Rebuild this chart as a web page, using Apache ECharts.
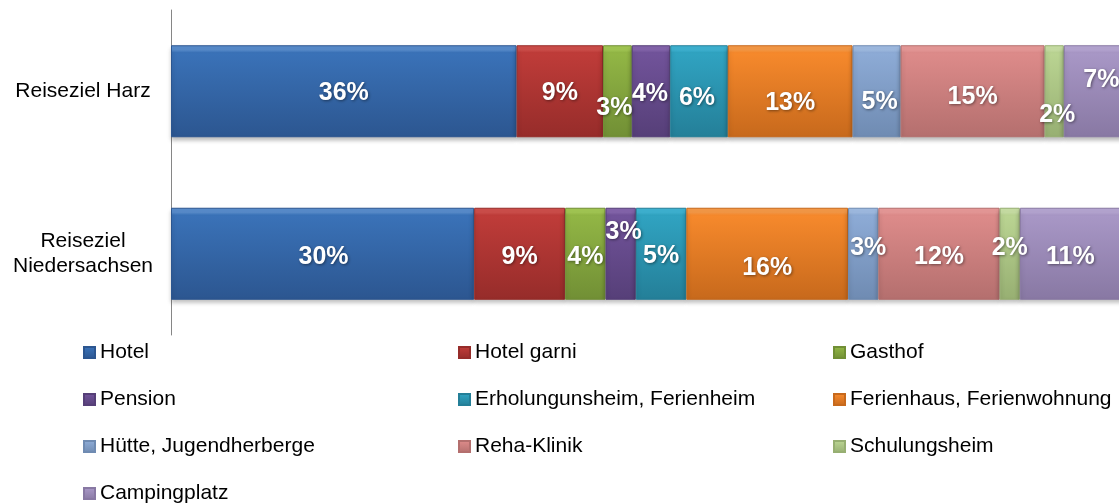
<!DOCTYPE html>
<html>
<head>
<meta charset="utf-8">
<script src="https://cdn.jsdelivr.net/npm/echarts@6/dist/echarts.min.js"></script>
<style>
  html, body { margin: 0; padding: 0; background: #fff; }
  #chart { width: 1119px; height: 504px; }
</style>
</head>
<body>
<div id="chart"></div>
<script>
// Kategorien (y-Achse)
const categories = ["Reiseziel Harz", "Reiseziel\nNiedersachsen"];
// Unterkunftsarten (Reihen)
const seriesNames = [
  "Hotel", "Hotel garni", "Gasthof", "Pension", "Erholungunsheim, Ferienheim",
  "Ferienhaus, Ferienwohnung", "Hütte, Jugendherberge", "Reha-Klinik", "Schulungsheim", "Campingplatz"
];
// Werte in % pro Reiseziel
const harz = [36, 9, 3, 4, 6, 13, 5, 15, 2, 7];
const niedersachsen = [30, 9, 4, 3, 5, 16, 3, 12, 2, 11];

// Farben: hell (oben), mittel, dunkel (unten)
const palette = [
  ["#5A8FD0", "#3A72B8", "#2C5690"],
  ["#D2504C", "#BF3C39", "#962C2A"],
  ["#A6CB55", "#92B645", "#718F35"],
  ["#8767AF", "#71539A", "#563F78"],
  ["#3FB6D6", "#30A3C1", "#247F98"],
  ["#FA9C48", "#F6892C", "#C7691C"],
  ["#A3BFE6", "#8DABD6", "#6F8BB2"],
  ["#EC9C9B", "#DD8B8A", "#B46F6E"],
  ["#CCE3A8", "#BAD492", "#97AF72"],
  ["#B9A9D6", "#A897C6", "#8878A3"]
];
// Label-Verschiebung wie im Original [x, y]
const labelShift = [
  [[0, 2], [1, 3]],
  [[0, 2], [0, 3]],
  [[-3, 17], [0, 3]],
  [[-1, 3], [3, -22]],
  [[-2, 7], [0, 2]],
  [[0, 12], [0, 14]],
  [[3, 11], [5, -6]],
  [[0, 6], [0, 3]],
  [[3, 24], [0, -6]],
  [[4, -11], [-5, 3]]
];

const rows = [harz, niedersachsen];
// 100%-gestapelt: jede Zeile auf ihre Summe normieren
const totals = rows.map((r) => r.reduce((a, b) => a + b, 0));

const series = seriesNames.map((name, i) => {
  const [c0, c1, c2] = palette[i];
  return {
    type: "bar",
    name,
    stack: "total",
    barWidth: 92,
    data: rows.map((r, j) => ({
      value: (r[i] / totals[j]) * 100,
      label: { offset: labelShift[i][j] },
    })),
    itemStyle: {
      color: {
        type: "linear",
        x: 0, y: 0, x2: 0, y2: 1,
        colorStops: [
          { offset: 0, color: c0 },
          { offset: 0.05, color: c0 },
          { offset: 0.08, color: c1 },
          { offset: 1, color: c2 },
        ],
      },
      borderColor: c2,
      borderWidth: 1,
      shadowColor: "rgba(0,0,0,0.25)",
      shadowBlur: 4,
      shadowOffsetY: 3,
    },
    label: {
      show: true,
      position: "inside",
      formatter: (p) => rows[p.dataIndex][i] + "%",
      color: "#fff",
      fontFamily: "Liberation Sans, Arial, sans-serif",
      fontWeight: "bold",
      fontSize: 25,
      textShadowColor: "rgba(0,0,0,0.45)",
      textShadowBlur: 3,
      textShadowOffsetX: 1,
      textShadowOffsetY: 1,
    },
    emphasis: { disabled: true },
  };
});

const legendBase = {
  orient: "vertical",
  top: 337,
  height: 200,
  icon: "rect",
  itemWidth: 11,
  itemHeight: 11,
  itemGap: 26,
  textStyle: {
    fontFamily: "Liberation Sans, Arial, sans-serif",
    fontSize: 21,
    lineHeight: 21,
    color: "#000",
  },
};

const chart = echarts.init(document.getElementById("chart"));
chart.setOption({
  animation: false,
  grid: { left: 171, top: 10, width: 960, height: 325, outerBoundsMode: "none" },
  xAxis: { type: "value", min: 0, max: 100, show: false },
  yAxis: {
    type: "category",
    inverse: true,
    data: categories,
    axisLine: { lineStyle: { color: "#868686" } },
    axisTick: { length: 6, lineStyle: { color: "#868686" } },
    axisLabel: {
      align: "center",
      margin: 88,
      color: "#000",
      fontFamily: "Liberation Sans, Arial, sans-serif",
      fontSize: 21,
      lineHeight: 25,
    },
  },
  legend: [
    Object.assign({}, legendBase, { left: 78, data: ["Hotel", "Pension", "Hütte, Jugendherberge", "Campingplatz"] }),
    Object.assign({}, legendBase, { left: 453, data: ["Hotel garni", "Erholungunsheim, Ferienheim", "Reha-Klinik"] }),
    Object.assign({}, legendBase, { left: 828, data: ["Gasthof", "Ferienhaus, Ferienwohnung", "Schulungsheim"] }),
  ],
  series,
});
</script>
</body>
</html>
